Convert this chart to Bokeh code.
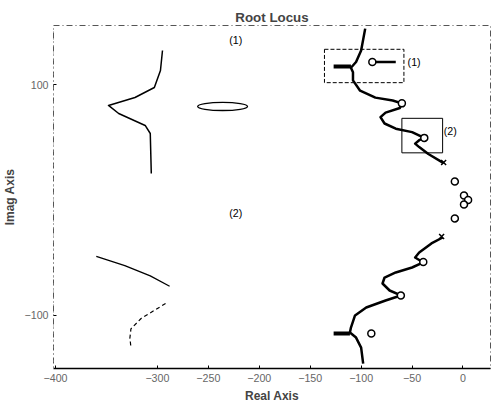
from bokeh.plotting import figure
from bokeh.models import FixedTicker, Range1d
from bokeh.core.properties import value
from bokeh.embed import file_html
from bokeh.resources import INLINE

# Upper root-locus branch (real, imag)
upper_re = [-96, -100, -105, -110, -108, -108, -101, -86, -69, -60, -62, -76, -81, -77, -66, -50, -38, -43, -47, -43, -34, -19]
upper_im = [149, 130, 120, 115, 111, 104, 95, 89, 86.5, 84, 80, 76, 72, 66.5, 62, 59, 54, 52, 49, 46, 40, 32]
# Lower branch
lower_re = [-20, -31, -43, -47, -39, -50, -66, -77, -79, -72, -61, -76, -95, -106, -110, -111, -105, -100, -98]
lower_im = [-32.6, -37.8, -45.7, -50, -54.3, -58.7, -63, -67.4, -72.6, -78.7, -83, -87.4, -93.5, -100.4, -110.9, -115.2, -119.6, -128.3, -142.2]
# Short spurs
spur_up_re = [-110, -127]
spur_up_im = [116, 116]
spur_dn_re = [-111, -127]
spur_dn_im = [-116, -116]
# Zeros (circles) and poles (crosses)
zero_re = [-60, -38, -89, -8, 1, 5, 1, -8, -39, -61, -90]
zero_im = [84, 54, 120, 16, 4, 0, -4, -16, -54, -83, -116]
pole_re = [-19, -21]
pole_im = [32.6, -31.7]
# Segment from zero inside box (1)
seg1_re = [-89, -66]
seg1_im = [120, 120]
# Boxes (left, right, bottom, top)
box1 = [-136, -58, 102, 131]
box2 = [-60, -20, 41, 71]
# Inset (1): enlarged view curve and ellipse
ins1_re = [-295, -297, -303, -322, -348, -338, -312, -307, -306]
ins1_im = [130, 112.6, 97.8, 89.1, 82.2, 75.2, 64.8, 57.8, 23]
ell_x, ell_y, ell_w, ell_h = -236, 81.3, 49, 7
# Inset (2): enlarged view curves
ins2a_re = [-360, -332, -307, -288]
ins2a_im = [-49, -57, -66, -75]
ins2b_re = [-292, -316, -326, -327, -326]
ins2b_im = [-90, -103, -112, -120, -128]
# Labels
lab_x = [-48, -12.5, -223, -223]
lab_y = [120, 60, 139, -11]
lab_t = ["(1)", "(2)", "(1)", "(2)"]
# Ticks
x_ticks = [-400, -300, -250, -200, -150, -100, -50, 0]
y_ticks = [-100, 100]

p = figure(width=497, height=405, output_backend="svg", toolbar_location=None,
           x_range=Range1d(-402, 27), y_range=Range1d(-146.5, 151.7),
           min_border_left=46, min_border_right=7, min_border_top=25, min_border_bottom=37)
p.title.text = "Root Locus"
p.title.align = "center"
p.title.text_font = "Liberation Sans"
p.title.text_font_size = "10pt"
p.title.text_font_style = "bold"
p.title.offset = 0
p.title.standoff = 2
p.grid.visible = False
p.background_fill_color = "white"
p.border_fill_color = "white"
p.outline_line_color = "#555"
p.outline_line_dash = "6 3 1 3"
p.outline_line_width = 1

p.xaxis.ticker = FixedTicker(ticks=x_ticks)
p.yaxis.ticker = FixedTicker(ticks=y_ticks)
p.xaxis.axis_label = "Real Axis"
p.yaxis.axis_label = "Imag Axis"
for ax in (p.xaxis[0], p.yaxis[0]):
    ax.axis_label_text_font = "Liberation Sans"
    ax.axis_label_text_font_size = "9pt"
    ax.axis_label_text_font_style = "bold"
    ax.major_label_text_font = "Liberation Sans"
    ax.major_label_text_font_size = "8pt"
    ax.major_label_text_color = "#666"
    ax.minor_tick_line_color = None
    ax.major_tick_in = 3
    ax.major_tick_out = 0
    ax.axis_label_standoff = 4
p.xaxis.axis_line_width = 1.5
p.yaxis.axis_line_color = "#888"
p.yaxis.axis_line_dash = "1 6"

# main locus
p.line(upper_re, upper_im, line_color="black", line_width=2.5, line_join="round")
p.line(lower_re, lower_im, line_color="black", line_width=2.5, line_join="round")
p.line(spur_up_re, spur_up_im, line_color="black", line_width=4)
p.line(spur_dn_re, spur_dn_im, line_color="black", line_width=4)
p.line(seg1_re, seg1_im, line_color="black", line_width=2.5)
p.scatter(zero_re, zero_im, marker="circle", size=7, fill_color="white", line_color="black", line_width=1.5)
p.scatter(pole_re, pole_im, marker="x", size=7, line_color="black", line_width=1.5)

# boxes
p.quad(left=[box1[0]], right=[box1[1]], bottom=[box1[2]], top=[box1[3]],
       fill_color=None, line_color="black", line_width=1, line_dash="4 2")
p.quad(left=[box2[0]], right=[box2[1]], bottom=[box2[2]], top=[box2[3]],
       fill_color=None, line_color="black", line_width=1)

# insets
p.line(ins1_re, ins1_im, line_color="black", line_width=1.5, line_join="round")
p.ellipse(x=[ell_x], y=[ell_y], width=[ell_w], height=[ell_h], fill_color=None,
          line_color="black", line_width=1.3)
p.line(ins2a_re, ins2a_im, line_color="black", line_width=1.3, line_join="round")
p.line(ins2b_re, ins2b_im, line_color="black", line_width=1.2, line_dash="4 3")

p.text(lab_x, lab_y, text=lab_t, text_font=value("Liberation Sans"), text_font_size="8pt",
       text_align="center", text_baseline="middle", text_color="black")

open("out.html", "w").write(file_html(p, INLINE))
